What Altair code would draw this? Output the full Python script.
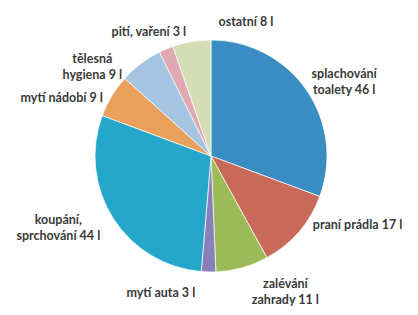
import altair as alt
import pandas as pd

categories = ["splachování", "praní prádla", "zalévání zahrady", "mytí auta",
              "koupání, sprchování", "mytí nádobí", "tělesná hygiena",
              "pití, vaření", "ostatní"]
values = [46, 17, 11, 3, 44, 9, 9, 3, 8]
labels = ["splachování\ntoalety 46 l", "praní prádla 17 l", "zalévání\nzahrady 11 l",
          "mytí auta 3 l", "koupání,\nsprchování 44 l", "mytí nádobí  9 l",
          "tělesná\nhygiena 9 l", "pití, vaření 3 l", "ostatní 8 l"]
colors = ["#3A8DC3", "#C8695A", "#9BBB59", "#8A7FB8", "#25A7CC",
          "#E8A05A", "#A5C4E2", "#E0A8B0", "#D4DDB6"]
# label nudges (dx, dy) from the default label radius
nudges = [(10, 4), (33, -29), (34, -16), (-47, -13), (-26, -16),
          (-21, 20), (-28, 22), (-4, 14), (60, 14)]

df = pd.DataFrame({"cat": categories, "value": values, "label": labels,
                   "order": list(range(len(values)))})
total = sum(values)
theta_scale = alt.Scale(domain=[0, total])

arcs = alt.Chart(df).mark_arc(radius=116, stroke="white", strokeWidth=0.7).encode(
    theta=alt.Theta("value:Q", stack=True, scale=theta_scale),
    color=alt.Color("cat:N", scale=alt.Scale(domain=categories, range=colors), legend=None),
    order=alt.Order("order:Q"),
)

layers = [arcs]
for c, (dx, dy) in zip(categories, nudges):
    t = alt.Chart(df).transform_window(
        cum="sum(value)", sort=[alt.SortField("order")], frame=[None, 0]
    ).transform_calculate(
        mid="datum.cum - datum.value / 2"
    ).transform_filter(
        alt.datum.cat == c
    ).mark_text(
        radius=150, dx=dx, dy=dy, align="center", baseline="middle",
        font="Lato", fontSize=12.5, fontWeight="bold", color="#3A3A3A",
        lineBreak="\n", lineHeight=16,
    ).encode(
        theta=alt.Theta("mid:Q", stack=None, scale=theta_scale),
        text="label:N",
    )
    layers.append(t)

chart = alt.layer(*layers).properties(
    width=414, height=312,
    padding={"left": 4, "top": 0, "right": 0, "bottom": 3},
    autosize="none",
    background="white",
).configure_view(stroke=None)

chart.save("out.html", embed_options={"renderer": "svg", "actions": False})
